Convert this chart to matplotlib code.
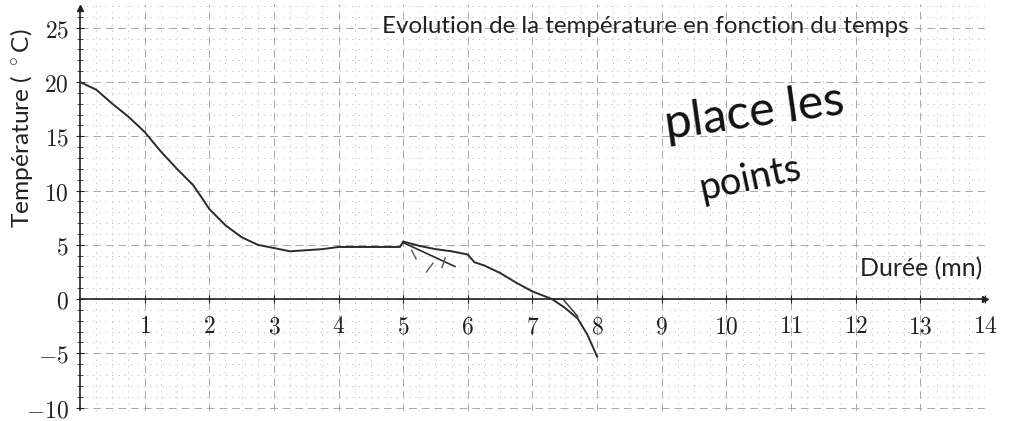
import matplotlib
matplotlib.use("Agg")
import matplotlib.pyplot as plt
import numpy as np

plt.rcParams["mathtext.fontset"] = "cm"

# --- data ---
t_curve = [0, 0.25, 0.5, 0.75, 1.0, 1.25, 1.5, 1.75, 1.9, 2.0, 2.25, 2.5, 2.75, 3.0,
           3.25, 3.5, 3.75, 4.0, 4.25, 4.5, 4.75, 4.95,
           5.0, 5.25, 5.5, 5.75, 6.0, 6.1, 6.25, 6.5, 6.75, 7.0, 7.3, 7.5, 7.7, 7.85, 8.0]
T_curve = [20.0, 19.3, 18.0, 16.8, 15.4, 13.6, 12.0, 10.5, 9.2, 8.3, 6.8, 5.7, 5.0, 4.7,
           4.4, 4.5, 4.6, 4.8, 4.8, 4.8, 4.8, 4.8,
           5.3, 4.9, 4.6, 4.4, 4.1, 3.4, 3.1, 2.4, 1.5, 0.7, 0.0, -0.8, -1.8, -3.3, -5.3]

# extra pencil strokes
t_stroke = [5.0, 5.8]
T_stroke = [5.2, 3.0]
t_fork = [7.3, 7.47, 7.7]
T_fork = [0.0, 0.0, -1.6]
t_marks = [(5.13, 5.2), (5.36, 5.46), (5.6, 5.65)]
T_marks = [(4.5, 3.7), (2.5, 3.3), (2.9, 3.8)]

x_ticks = list(range(1, 15))
y_ticks = [-10, -5, 0, 5, 10, 15, 20, 25]

title = "Evolution de la température en fonction du temps"
xlabel = "Durée (mn)"
ylabel = r"Température ( $^\circ$C)"
note1 = "place les"
note2 = "points"

fig = plt.figure(figsize=(10.16, 4.21), dpi=100)
ax = fig.add_axes([80 / 1016, 0.0242, 905 / 1016, 0.9665])
ax.set_xlim(0, 14)
ax.set_ylim(-10.3, 27.2)

# grid
grid_col = "#a8a8a8"
for x in np.arange(0.25, 14.01, 0.25):
    if abs(x - round(x)) < 1e-6:
        ax.axvline(x, color=grid_col, lw=0.7, ls=(0, (8, 5)), zorder=0)
    else:
        ax.axvline(x, color="#c8c8c8", lw=0.7, ls=(0, (1.5, 5)), zorder=0)
for y in range(-10, 28):
    if y % 5 == 0:
        ax.axhline(y, color=grid_col, lw=0.7, ls=(0, (8, 5)), zorder=0)
    else:
        ax.axhline(y, color="#c8c8c8", lw=0.7, ls=(0, (1.5, 5)), zorder=0)

# axes through origin with arrows
for s in ["top", "right"]:
    ax.spines[s].set_visible(False)
ax.spines["bottom"].set_position(("data", 0))
ax.spines["bottom"].set_bounds(0, 14)
ax.spines["left"].set_position(("data", 0))
ax.spines["left"].set_bounds(-10.2, 26.8)
for s in ["bottom", "left"]:
    ax.spines[s].set_linewidth(1.2)
    ax.spines[s].set_color("#222222")
ax.plot(14, 0, ">", color="#222222", ms=5, clip_on=False, zorder=5)
ax.plot(0, 26.8, "^", color="#222222", ms=5, clip_on=False, zorder=5)

ax.set_xticks(x_ticks)
ax.set_xticklabels([f"${v}$" for v in x_ticks])
ax.set_yticks(y_ticks)
ax.set_yticklabels([f"${v}$" for v in y_ticks])
ax.set_yticks(range(-10, 27), minor=True)
ax.tick_params(axis="both", which="major", direction="inout", length=6, width=0.8,
               labelsize=17, colors="#222222")
ax.tick_params(axis="x", pad=8)
ax.tick_params(axis="y", pad=5)
ax.tick_params(axis="y", which="minor", direction="inout", length=5, width=0.7,
               colors="#444444")

# curve
ink = "#2b2b2b"
ax.plot(t_curve, T_curve, color=ink, lw=1.4, zorder=3)
ax.plot(t_stroke, T_stroke, color=ink, lw=1.2, zorder=3)
ax.plot(t_fork, T_fork, color=ink, lw=1.0, zorder=3)
for tm, Tm in zip(t_marks, T_marks):
    ax.plot(tm, Tm, color="#555555", lw=1.0, zorder=3)

# labels
def fit(txt, size_px, vertical=False):
    fig.canvas.draw()
    ext = txt.get_window_extent()
    cur = ext.height if vertical else ext.width
    txt.set_fontsize(txt.get_fontsize() * size_px / cur)

sans = ["Lato", "DejaVu Sans"]
tt = ax.text(4.67, 24.5, title, ha="left", va="baseline", fontsize=16,
             family=sans, color="#222222", zorder=4)
tx = ax.text(13.95, 2.1, xlabel, ha="right", va="baseline", fontsize=16,
             family=sans, color="#222222", zorder=4)
ty = fig.text(22 / 1016, 1 - 128 / 421, ylabel, rotation=90, ha="center", va="center",
              fontsize=16, family=sans, color="#222222")
n1 = ax.text(10.44, 17.2, note1, ha="center", va="center", fontsize=30,
             family=sans, rotation=8, color="#111111", zorder=4)
n2 = ax.text(10.36, 11.1, note2, ha="center", va="center", fontsize=30,
             family=sans, rotation=12, color="#111111", zorder=4)
fit(tt, 528)
fit(tx, 123)
fit(ty, 200, vertical=True)
fit(n1, 185)
fit(n2, 108)

fig.savefig("out.png", dpi=100)
